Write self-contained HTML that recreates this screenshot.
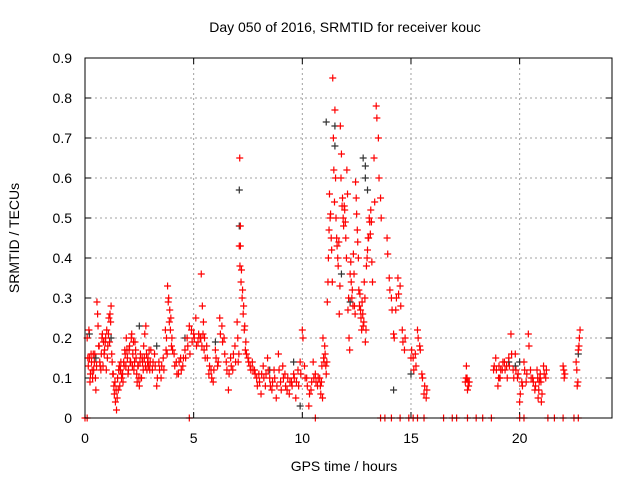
<!DOCTYPE html>
<html><head><meta charset="utf-8">
<style>
body{margin:0;background:#fff;}
svg{display:block;font-family:"Liberation Sans",sans-serif;}
</style></head><body>
<svg id="chart" width="640" height="480" viewBox="0 0 640 480" xmlns="http://www.w3.org/2000/svg">
<rect width="640" height="480" fill="#fff"/>
<text x="345" y="32" font-size="14" text-anchor="middle">Day 050 of 2016, SRMTID for receiver kouc</text>
<text x="344" y="471" font-size="14" text-anchor="middle">GPS time / hours</text>
<text transform="translate(19,238) rotate(-90)" font-size="14" text-anchor="middle">SRMTID / TECUs</text>
<g id="grid"></g>
<g id="ticks"></g>
<g id="marks"></g>
<rect x="85" y="58" width="527" height="360" fill="none" stroke="#000" stroke-width="1"/>
</svg>
<script>
const xTicks=[0,5,10,15,20];
const yTicks=[0,0.1,0.2,0.3,0.4,0.5,0.6,0.7,0.8,0.9];
const yTickLabels=["0","0.1","0.2","0.3","0.4","0.5","0.6","0.7","0.8","0.9"];
const blackSeries=[[0.2,0.21],[0.5,0.15],[1.2,0.2],[2.5,0.23],[3.3,0.18],[4.6,0.2],[6.0,0.19],[7.1,0.57],[7.1,0.48],[8.5,0.12],[9.6,0.14],[9.9,0.03],[11.1,0.74],[11.5,0.73],[11.5,0.68],[11.8,0.36],[12.2,0.29],[12.8,0.65],[12.9,0.63],[12.9,0.6],[13.0,0.57],[14.2,0.07],[15.0,0.11],[19.5,0.14],[19.8,0.13],[20.0,0.14],[22.7,0.16]];
const redX=[0.1,0.15,0.2,0.25,0.3,0.35,0.4,0.45,0.5,0.55,0.6,0.65,0.7,0.75,0.8,0.85,0.9,0.95,1.0,1.05,1.1,1.15,1.2,1.25,1.3,1.35,1.4,1.45,1.5,1.55,1.6,1.65,1.7,1.75,1.8,1.85,1.9,1.95,2.0,2.05,2.1,2.15,2.2,2.25,2.3,2.35,2.4,2.45,2.5,2.55,2.6,2.65,2.7,2.75,2.8,2.85,2.9,2.95,3.0,3.1,3.2,3.3,3.4,3.5,3.6,3.7,3.75,3.8,3.85,3.9,3.95,4.0,4.1,4.2,4.3,4.4,4.5,4.6,4.7,4.8,4.9,5.0,5.1,5.2,5.3,5.35,5.4,5.45,5.5,5.6,5.7,5.8,5.9,6.0,6.1,6.2,6.3,6.4,6.5,6.6,6.7,6.8,6.9,7.0,7.05,7.1,7.12,7.15,7.2,7.25,7.3,7.35,7.4,7.5,7.6,7.7,7.8,7.9,8.0,8.1,8.2,8.3,8.4,8.5,8.6,8.7,8.8,8.9,9.0,9.1,9.2,9.3,9.4,9.5,9.6,9.7,9.8,9.9,10.0,10.1,10.2,10.3,10.4,10.5,10.6,10.7,10.8,10.85,10.9,10.95,11.0,11.05,11.1,11.15,11.2,11.25,11.3,11.35,11.4,11.45,11.5,11.55,11.6,11.65,11.7,11.75,11.8,11.85,11.9,11.95,12.0,12.05,12.1,12.15,12.2,12.25,12.3,12.35,12.4,12.45,12.5,12.55,12.6,12.65,12.7,12.75,12.8,12.85,12.9,12.95,13.0,13.05,13.1,13.15,13.2,13.3,13.4,13.5,13.6,13.9,14.0,14.1,14.2,14.3,14.4,14.5,14.6,14.7,15.0,15.1,15.2,15.3,15.4,15.5,15.6,15.7,17.5,17.55,17.6,17.65,18.8,18.9,19.0,19.05,19.1,19.2,19.3,19.4,19.5,19.6,19.7,19.8,19.9,20.0,20.1,20.2,20.3,20.4,20.5,20.6,20.7,20.8,20.85,20.9,20.95,21.0,21.1,21.2,22.0,22.05,22.6,22.65,22.7,22.75];
const redA=[0.2,0.13,0.15,0.11,0.14,0.1,0.12,0.16,0.07,0.29,0.23,0.18,0.13,0.16,0.21,0.19,0.17,0.2,0.22,0.18,0.25,0.26,0.28,0.14,0.11,0.06,0.04,0.02,0.1,0.12,0.08,0.14,0.11,0.09,0.13,0.16,0.2,0.15,0.12,0.18,0.14,0.21,0.16,0.12,0.19,0.15,0.09,0.13,0.08,0.16,0.1,0.14,0.18,0.21,0.23,0.12,0.15,0.17,0.14,0.12,0.16,0.08,0.14,0.1,0.15,0.22,0.2,0.33,0.3,0.27,0.25,0.2,0.16,0.14,0.11,0.15,0.13,0.17,0.2,0.23,0.22,0.21,0.25,0.19,0.2,0.36,0.28,0.24,0.2,0.18,0.11,0.12,0.09,0.17,0.13,0.25,0.23,0.2,0.14,0.07,0.15,0.12,0.18,0.24,0.14,0.43,0.65,0.48,0.37,0.32,0.28,0.23,0.19,0.15,0.13,0.14,0.12,0.1,0.11,0.06,0.13,0.08,0.15,0.1,0.07,0.12,0.05,0.16,0.09,0.13,0.11,0.07,0.06,0.09,0.11,0.05,0.12,0.14,0.22,0.13,0.1,0.03,0.07,0.14,0.11,0.08,0.1,0.06,0.13,0.2,0.14,0.16,0.11,0.29,0.4,0.56,0.51,0.42,0.85,0.62,0.77,0.5,0.43,0.38,0.26,0.73,0.66,0.55,0.48,0.52,0.45,0.62,0.27,0.2,0.36,0.34,0.32,0.41,0.28,0.59,0.51,0.44,0.32,0.31,0.25,0.29,0.23,0.34,0.19,0.38,0.42,0.45,0.49,0.52,0.39,0.65,0.78,0.7,0.55,0.45,0.35,0.3,0.21,0.27,0.35,0.33,0.22,0.17,0.15,0.15,0.16,0.22,0.18,0.11,0.06,0.05,0.09,0.13,0.07,0.08,0.12,0.15,0.08,0.13,0.1,0.12,0.14,0.13,0.15,0.21,0.12,0.16,0.1,0.04,0.09,0.14,0.09,0.21,0.12,0.1,0.07,0.12,0.05,0.09,0.11,0.04,0.13,0.1,0.13,0.1,0.14,0.08,0.17,0.2,0.3,0.26,0.22,0.32,0.24,0.19,0.14,0.13,0.16,0.12,0.08,0.13];
const redB=[0.15,0.22,0.09,0.16,0.12,0.16,0.14,0.1,0.13,0.26,0.18,0.14,0.12,0.2,0.13,0.16,0.19,0.12,0.15,0.21,0.19,0.24,0.16,0.11,0.08,0.09,0.07,0.05,0.07,0.13,0.12,0.1,0.11,0.14,0.17,0.13,0.17,0.11,0.17,0.14,0.2,0.13,0.19,0.14,0.17,0.11,0.13,0.1,0.14,0.1,0.15,0.12,0.15,0.13,0.16,0.14,0.13,0.12,0.17,0.14,0.13,0.1,0.12,0.13,0.12,0.17,0.16,0.29,0.24,0.22,0.18,0.17,0.13,0.11,0.14,0.12,0.15,0.15,0.18,0.16,0.19,0.2,0.18,0.21,0.2,0.18,0.21,0.17,0.15,0.15,0.13,0.1,0.12,0.15,0.14,0.21,0.19,0.16,0.12,0.11,0.13,0.16,0.14,0.2,0.16,0.38,0.43,0.34,0.3,0.26,0.22,0.17,0.16,0.14,0.12,0.12,0.11,0.08,0.09,0.11,0.1,0.11,0.12,0.08,0.09,0.1,0.08,0.12,0.07,0.1,0.08,0.1,0.09,0.08,0.1,0.09,0.08,0.11,0.2,0.1,0.08,0.06,0.09,0.1,0.09,0.1,0.08,0.09,0.05,0.15,0.18,0.13,0.14,0.34,0.47,0.5,0.45,0.34,0.7,0.54,0.6,0.45,0.4,0.44,0.33,0.6,0.53,0.5,0.53,0.49,0.4,0.56,0.3,0.17,0.39,0.3,0.28,0.36,0.26,0.55,0.47,0.4,0.28,0.27,0.22,0.26,0.24,0.3,0.22,0.4,0.45,0.5,0.46,0.49,0.34,0.54,0.75,0.6,0.5,0.41,0.32,0.27,0.2,0.3,0.31,0.28,0.19,0.2,0.17,0.12,0.13,0.2,0.17,0.1,0.08,0.07,0.1,0.1,0.09,0.09,0.13,0.12,0.1,0.1,0.12,0.14,0.12,0.1,0.13,0.16,0.1,0.12,0.11,0.06,0.08,0.12,0.11,0.18,0.1,0.09,0.08,0.1,0.07,0.1,0.09,0.06,0.11,0.12,0.12,0.11,0.12,0.09,0.18,0.22,0.28,0.25,0.2,0.28,0.21,0.2,0.15,0.14,0.14,0.1,0.1,0.1];
const zeroX=[0,0.1,4.8,10.6,13.6,13.8,14.1,14.5,14.9,15.1,15.3,15.6,16.5,16.9,17.1,17.6,18.0,18.3,18.7,20.0,20.2,21.3,21.6,22.0,22.5,22.7];
const X=v=>85+v*(527/24.25), Y=v=>418-v*400;
const NS="http://www.w3.org/2000/svg";
function mk(tag,attrs,parent){const e=document.createElementNS(NS,tag);for(const k in attrs)e.setAttribute(k,attrs[k]);parent.appendChild(e);return e;}
const grid=document.getElementById('grid'),ticks=document.getElementById('ticks'),marks=document.getElementById('marks');
xTicks.forEach(t=>{
  if(t>0){const g=mk('line',{x1:X(t),x2:X(t),y1:58,y2:418,stroke:'#a0a0a0','stroke-dasharray':'2,3'},grid);
  
  }
  mk('line',{x1:X(t),x2:X(t),y1:418,y2:412,stroke:'#000'},ticks);
  mk('line',{x1:X(t),x2:X(t),y1:58,y2:64,stroke:'#000'},ticks);
  const l=mk('text',{x:X(t),y:443,'font-size':14,'text-anchor':'middle'},ticks);l.textContent=t;
  
  
});
yTicks.forEach((t,i)=>{
  if(t>0&&t<0.9){const g=mk('line',{x1:85,x2:612,y1:Y(t),y2:Y(t),stroke:'#a0a0a0','stroke-dasharray':'2,3'},grid);
  
  }
  mk('line',{x1:85,x2:91,y1:Y(t),y2:Y(t),stroke:'#000'},ticks);
  mk('line',{x1:606,x2:612,y1:Y(t),y2:Y(t),stroke:'#000'},ticks);
  const l=mk('text',{x:72,y:Y(t)+5,'font-size':14,'text-anchor':'end'},ticks);l.textContent=yTickLabels[i];
  
  
});
function plus(x,y,c){const p=mk('path',{d:`M${x-3.5},${y}h7M${x},${y-3.5}v7`,stroke:c,'stroke-width':1.2,fill:'none'},marks);
  
  }
blackSeries.forEach(d=>plus(X(d[0]),Y(d[1]),'#333'));
redX.forEach((x,i)=>{plus(X(x),Y(redA[i]),'#f00');plus(X(x+0.03),Y(redB[i]),'#f00');});
zeroX.forEach(x=>plus(X(x),Y(0),'#f00'));
</script>
</body></html>
